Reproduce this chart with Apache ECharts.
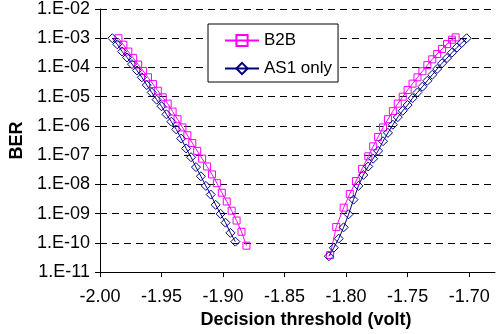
<!DOCTYPE html>
<html><head><meta charset="utf-8">
<script src="https://cdn.jsdelivr.net/npm/echarts@6/dist/echarts.min.js"></script>
<style>html,body{margin:0;padding:0;background:#fff}#c{width:496px;height:334px}</style>
</head><body><div id="c"></div>
<script>
// ---- data ----
const seriesNames = ['B2B', 'AS1 only'];

const b2bLeftX = [-1.985,-1.981,-1.977,-1.973,-1.969,-1.965,-1.961,-1.957,-1.953,-1.949,-1.945,-1.941,-1.937,-1.933,-1.929,-1.925,-1.921,-1.917,-1.913,-1.909,-1.905,-1.901,-1.897,-1.893,-1.889,-1.885,-1.881];
const b2bLeftY = [1.0e-3,6.0e-4,3.5e-4,2.1e-4,1.26e-4,7.6e-5,4.6e-5,2.7e-5,1.6e-5,9.5e-6,5.8e-6,3.1e-6,1.7e-6,8.9e-7,4.8e-7,2.6e-7,1.4e-7,7.6e-8,4.1e-8,2.2e-8,1.1e-8,5.2e-9,2.6e-9,1.26e-9,5.8e-10,2.4e-10,8.0e-11];

const b2bRightX = [-1.813,-1.808,-1.802,-1.797,-1.792,-1.787,-1.782,-1.778,-1.774,-1.770,-1.766,-1.762,-1.758,-1.754,-1.750,-1.746,-1.742,-1.738,-1.734,-1.730,-1.726,-1.722,-1.718,-1.714,-1.711];
const b2bRightY = [3.8e-11,3.5e-10,1.6e-9,4.7e-9,1.3e-8,3.4e-8,9.1e-8,2.0e-7,4.2e-7,8.9e-7,1.7e-6,3.2e-6,5.8e-6,1.0e-5,1.7e-5,2.8e-5,4.6e-5,7.4e-5,1.2e-4,1.9e-4,2.9e-4,4.3e-4,6.3e-4,8.9e-4,1.07e-3];

const as1LeftX = [-1.990,-1.986,-1.982,-1.978,-1.974,-1.970,-1.966,-1.962,-1.958,-1.954,-1.950,-1.946,-1.942,-1.938,-1.934,-1.930,-1.926,-1.922,-1.918,-1.914,-1.910,-1.906,-1.902,-1.898,-1.894,-1.890];
const as1LeftY = [1.0e-3,6.2e-4,3.5e-4,2.2e-4,1.3e-4,7.9e-5,4.6e-5,2.5e-5,1.4e-5,7.9e-6,4.7e-6,2.5e-6,1.4e-6,7.6e-7,3.7e-7,1.7e-7,8.5e-8,3.9e-8,1.9e-8,8.9e-9,4.5e-9,2.0e-9,9.8e-10,4.9e-10,2.2e-10,1.1e-10];

const as1RightX = [-1.814,-1.810,-1.806,-1.802,-1.798,-1.794,-1.790,-1.786,-1.782,-1.778,-1.774,-1.770,-1.766,-1.762,-1.758,-1.754,-1.750,-1.746,-1.742,-1.738,-1.734,-1.730,-1.726,-1.722,-1.718,-1.714,-1.710,-1.706,-1.702];
const as1RightY = [3.5e-11,6.8e-11,1.4e-10,3.4e-10,9.5e-10,3.0e-9,8.9e-9,2.1e-8,4.1e-8,7.6e-8,1.4e-7,3.0e-7,5.8e-7,1.1e-6,2.0e-6,3.3e-6,5.2e-6,8.9e-6,1.4e-5,2.2e-5,3.5e-5,5.6e-5,8.9e-5,1.4e-4,2.1e-4,3.2e-4,4.8e-4,6.9e-4,1.0e-3];

const xTickValues = [-2.00,-1.95,-1.90,-1.85,-1.80,-1.75,-1.70];
const yMin = 1e-11, yMax = 1e-2;
const xTitle = 'Decision threshold (volt)';
const yTitle = 'BER';
// --------------------------------------

function pairs(xs, ys) { return xs.map((x, i) => [x, ys[i]]); }
const FONT = 'Liberation Sans, Arial, sans-serif';
const PINK = '#ff00ff', NAVY = '#000080';

function mk(name, xs, ys, color, symbol, size) {
  return {
    name, type: 'line', data: pairs(xs, ys),
    symbol, symbolSize: size, showSymbol: true,
    lineStyle: { color, width: 1 },
    itemStyle: { color: 'rgba(255,255,255,0)', borderColor: color, borderWidth: 1 },
    emphasis: { disabled: true }, animation: false
  };
}

const chart = echarts.init(document.getElementById('c'), null, { renderer: 'canvas' });
chart.setOption({
  animation: false,
  textStyle: { fontFamily: FONT },
  grid: { left: 100, right: 1, top: 8.5, bottom: 57, containLabel: false },
  legend: {
    orient: 'vertical', left: 208, top: 24,
    data: seriesNames,
    backgroundColor: '#fff', borderColor: '#000', borderWidth: 1, borderRadius: 0,
    padding: [8, 6, 5, 16], itemGap: 11, itemWidth: 34, itemHeight: 14,
    textStyle: { fontSize: 17, color: '#000', fontFamily: FONT }
  },
  xAxis: {
    type: 'value', min: -2.0, max: -1.679,
    name: xTitle, nameLocation: 'middle', nameGap: 38,
    nameTextStyle: { fontSize: 18, fontWeight: 'bold', color: '#000', fontFamily: FONT, padding: [0, 0, 0, 17] },
    axisLine: { show: true, onZero: false, lineStyle: { color: '#000', width: 1 } },
    axisTick: { show: true, length: 5, customValues: xTickValues, lineStyle: { color: '#000' } },
    axisLabel: { customValues: xTickValues, formatter: v => v.toFixed(2), fontSize: 18, color: '#000', margin: 16, fontFamily: FONT },
    splitLine: { show: false }
  },
  yAxis: {
    type: 'log', logBase: 10, min: yMin, max: yMax, splitNumber: 9,
    name: yTitle, nameLocation: 'middle', nameGap: 70, nameRotate: 90,
    nameTextStyle: { fontSize: 18, fontWeight: 'bold', color: '#000', fontFamily: FONT },
    axisLine: { show: true, lineStyle: { color: '#000', width: 1 } },
    axisTick: { show: true, length: 5, lineStyle: { color: '#000' } },
    axisLabel: {
      fontSize: 18, color: '#000', margin: 10, fontFamily: FONT,
      formatter: v => { const e = Math.round(Math.log10(v)); return '1.E' + (e < 0 ? '-' : '+') + String(Math.abs(e)).padStart(2, '0'); }
    },
    splitLine: { show: true, lineStyle: { color: '#000', width: 1, type: [7, 5] } },
    minorTick: { show: false }
  },
  series: [
    mk(seriesNames[0], b2bLeftX, b2bLeftY, PINK, 'rect', 7),
    mk(seriesNames[0], b2bRightX, b2bRightY, PINK, 'rect', 7),
    mk(seriesNames[1], as1LeftX, as1LeftY, NAVY, 'diamond', 9),
    mk(seriesNames[1], as1RightX, as1RightY, NAVY, 'diamond', 9)
  ]
});
</script>
</body></html>
